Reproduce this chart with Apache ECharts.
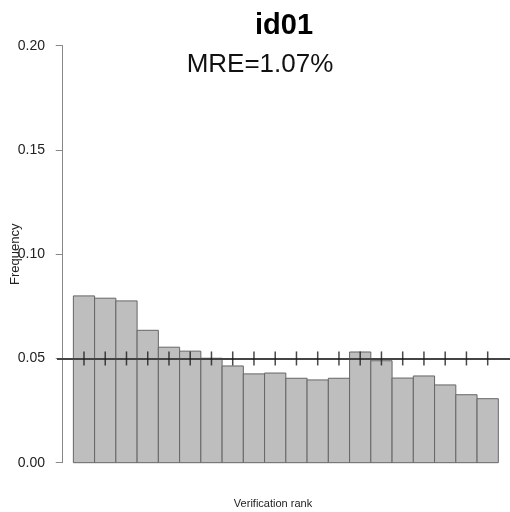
<!DOCTYPE html>
<html>
<head>
<meta charset="utf-8">
<script src="https://cdn.jsdelivr.net/npm/echarts@6/dist/echarts.min.js"></script>
<style>html,body{margin:0;padding:0;background:#fff;}#c{width:510px;height:512px;}</style>
</head>
<body>
<div id="c"></div>
<script>
// ---- data ----
const ranks = [1, 2, 3, 4, 5, 6, 7, 8, 9, 10, 11, 12, 13, 14, 15, 16, 17, 18, 19, 20];
const frequency = [0.0800, 0.0789, 0.0776, 0.0635, 0.0554, 0.0535, 0.0501, 0.0464, 0.0426, 0.0430,
                   0.0405, 0.0397, 0.0405, 0.0531, 0.0489, 0.0406, 0.0416, 0.0373, 0.0326, 0.0307];
const yTicks = [0.00, 0.05, 0.10, 0.15, 0.20];
const uniformLevel = 0.05;
const titleText = 'id01';
const mreText = 'MRE=1.07%';
const xLabel = 'Verification rank';
const yLabel = 'Frequency';

const FONT = '"Liberation Sans", Arial, sans-serif';
const chart = echarts.init(document.getElementById('c'), null, {renderer: 'canvas'});

chart.setOption({
  animation: false,
  backgroundColor: '#ffffff',
  title: [
    {text: titleText, left: 279, top: 6, textAlign: 'center',
     textStyle: {fontFamily: FONT, fontSize: 29, fontWeight: 'bold', color: '#000'}},
    {text: mreText, left: 255, top: 47, textAlign: 'center',
     textStyle: {fontFamily: FONT, fontSize: 26, fontWeight: 'normal', color: '#111'}},
    {text: xLabel, left: 268, top: 493, textAlign: 'center',
     textStyle: {fontFamily: FONT, fontSize: 11, fontWeight: 'normal', color: '#222'}}
  ],
  grid: {left: 57, right: 0, top: 45.7, bottom: 49.3, containLabel: false, outerBoundsMode: 'none'},
  xAxis: {type: 'value', min: -0.27, max: 21.05, show: false},
  yAxis: {
    type: 'value', min: yTicks[0], max: yTicks[yTicks.length - 1], interval: 0.05,
    name: yLabel, nameLocation: 'middle', nameRotate: 90, nameGap: 35, nameMoveOverlap: false,
    nameTextStyle: {fontFamily: FONT, fontSize: 13, color: '#222'},
    axisLine: {show: true, lineStyle: {color: '#888', width: 1}},
    axisTick: {show: true, length: 7, lineStyle: {color: '#888', width: 1}},
    axisLabel: {fontFamily: FONT, fontSize: 14, color: '#222', margin: 12,
                formatter: v => v.toFixed(2)},
    splitLine: {show: false}
  },
  series: [
    {
      type: 'custom',
      data: ranks.map((r, i) => [r, frequency[i]]),
      z: 1,
      renderItem: function (params, api) {
        const x = api.value(0), v = api.value(1);
        const p0 = api.coord([x - 0.5, v]);
        const p1 = api.coord([x + 0.5, 0]);
        return {
          type: 'rect',
          shape: {x: p0[0], y: p0[1], width: p1[0] - p0[0], height: p1[1] - p0[1]},
          style: {fill: '#bebebe', stroke: '#666', lineWidth: 1}
        };
      }
    },
    {
      type: 'scatter',
      data: ranks.map(r => [r, uniformLevel]),
      symbol: 'rect',
      symbolSize: [1.5, 14],
      itemStyle: {color: '#1a1a1a'},
      z: 5,
      silent: true,
      markLine: {
        silent: true, symbol: ['none', 'none'], label: {show: false},
        lineStyle: {color: '#444', width: 2, type: 'solid'},
        data: [{yAxis: uniformLevel}]
      }
    }
  ]
});
</script>
</body>
</html>
